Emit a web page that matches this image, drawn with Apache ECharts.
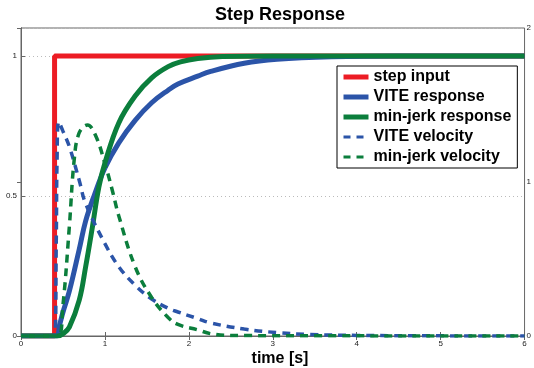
<!DOCTYPE html>
<html>
<head>
<meta charset="utf-8">
<script src="https://cdn.jsdelivr.net/npm/echarts@6/dist/echarts.min.js"></script>
<style>
    html, body { margin: 0; padding: 0; background: #fff; }
    #chart { width: 534px; height: 368px; }
</style>
</head>
<body>
<div id="chart"></div>
<script>
var xTicks = ['0', '1', '2', '3', '4', '5', '6'];

// step input
var stepT = [0, 0.4, 0.4, 6];
var stepV = [0, 0, 1, 1];

// VITE response
var viteT = [0, 0.42, 0.46, 0.5, 0.576, 0.694, 0.77, 0.87, 1.0, 1.165, 1.36, 1.557, 1.753, 1.87, 2.106, 2.26, 2.66, 3.05, 3.7, 4.5, 6];
var viteV = [0, 0, 0.04, 0.085, 0.16, 0.31, 0.41, 0.5, 0.6, 0.69, 0.77, 0.833, 0.878, 0.9, 0.928, 0.945, 0.974, 0.988, 0.997, 1, 1];

// min-jerk response
var mjT = [0, 0.44, 0.5, 0.576, 0.694, 0.77, 0.851, 0.929, 1.0, 1.165, 1.36, 1.557, 1.753, 1.9, 2.106, 2.4, 3, 6];
var mjV = [0, 0, 0.008, 0.032, 0.128, 0.247, 0.39, 0.534, 0.618, 0.761, 0.857, 0.922, 0.962, 0.979, 0.991, 0.998, 1, 1];

// velocities (right axis)
var viteVelT = [0, 0.4, 0.42, 0.43, 0.45, 0.5, 0.576, 0.694, 0.77, 1.0, 1.165, 1.36, 1.557, 1.753, 1.87, 2.106, 2.26, 2.66, 3.05, 3.44, 4, 5, 6];
var viteVelV = [0, 0, 0.6, 1.15, 1.39, 1.33, 1.23, 1.01, 0.86, 0.6, 0.45, 0.33, 0.24, 0.18, 0.156, 0.113, 0.085, 0.045, 0.022, 0.01, 0.004, 0.001, 0];

var mjVelT = [0, 0.44, 0.498, 0.576, 0.635, 0.694, 0.792, 0.89, 1.0, 1.086, 1.165, 1.36, 1.557, 1.753, 1.87, 2.106, 2.26, 2.5, 6];
var mjVelV = [0, 0, 0.19, 0.71, 1.15, 1.32, 1.37, 1.3, 1.12, 0.95, 0.78, 0.45, 0.25, 0.12, 0.075, 0.04, 0.015, 0.003, 0];

var RED = '#ec1c24', BLUE = '#2b54a8', GREEN = '#0b7e3c';
var FONT = '"Liberation Sans", Arial, sans-serif';

function pairs(t, v) {
    var out = [];
    for (var i = 0; i < t.length; i++) out.push([t[i], v[i]]);
    return out;
}

// legend: line only, hide the circle marker
var noMark = { color: 'transparent', borderWidth: 0, opacity: 0 };

var myChart = echarts.init(document.getElementById('chart'));

option = {
    backgroundColor: '#fff',
    animation: false,
    textStyle: { fontFamily: FONT },
    grid: {
        left: 21,
        right: 5,
        top: 28,
        bottom: 32,
        show: true,
        borderColor: '#666',
        borderWidth: 1
    },
    title: [{
        text: 'Step Response',
        left: 275,
        top: 1,
        textAlign: 'center',
        textStyle: { fontFamily: FONT, fontSize: 18, fontWeight: 'bold', color: '#000' }
    }, {
        text: 'time [s]',
        left: 275,
        top: 346,
        textAlign: 'center',
        textStyle: { fontFamily: FONT, fontSize: 16, fontWeight: 'bold', color: '#000' }
    }],
    legend: {
        orient: 'vertical',
        left: 337,
        top: 66,
        padding: [3, 6, 3, 4],
        itemWidth: 25,
        itemHeight: 16,
        itemGap: 4,
        backgroundColor: '#fff',
        borderColor: '#000',
        borderWidth: 1,
        borderRadius: 0,
        textStyle: { fontFamily: FONT, fontSize: 16, fontWeight: 'bold', color: '#000', lineHeight: 16 },
        data: [
            { name: 'step input', lineStyle: { width: 5 }, itemStyle: noMark },
            { name: 'VITE response', lineStyle: { width: 5 }, itemStyle: noMark },
            { name: 'min-jerk response', lineStyle: { width: 5 }, itemStyle: noMark },
            { name: 'VITE velocity', lineStyle: { width: 3, type: [7, 6] }, itemStyle: noMark },
            { name: 'min-jerk velocity', lineStyle: { width: 3, type: [7, 6] }, itemStyle: noMark }
        ]
    },
    xAxis: [{
        type: 'value',
        min: 0,
        max: 6,
        interval: 1,
        axisLine: { show: true, lineStyle: { color: '#666' } },
        axisTick: { show: true, inside: true, length: 4, lineStyle: { color: '#666' } },
        splitLine: { show: false },
        axisLabel: {
            margin: 4,
            fontSize: 8,
            color: '#222',
            formatter: function (v) { return xTicks[Math.round(v)]; }
        }
    }, {
        type: 'value',
        position: 'top',
        min: 0,
        max: 6,
        interval: 1,
        axisLine: { show: true, lineStyle: { color: '#666' } },
        axisTick: { show: true, inside: true, length: 4, lineStyle: { color: '#666' } },
        splitLine: { show: false },
        axisLabel: { show: false }
    }],
    yAxis: [{
        type: 'value',
        min: 0,
        max: 1.1,
        interval: 0.5,
        axisLine: { show: true, lineStyle: { color: '#666' } },
        axisTick: { show: true, inside: true, length: 4, lineStyle: { color: '#666' } },
        splitLine: { show: true, lineStyle: { color: '#bbb', type: [1, 3] } },
        axisLabel: { margin: 4, fontSize: 8, color: '#222', showMaxLabel: false }
    }, {
        type: 'value',
        position: 'right',
        min: 0,
        max: 2,
        interval: 1,
        axisLine: { show: true, lineStyle: { color: '#666' } },
        axisTick: { show: true, inside: true, length: 4, lineStyle: { color: '#666' } },
        splitLine: { show: false },
        axisLabel: { margin: 2, fontSize: 8, color: '#222' }
    }],
    series: [{
        name: 'step input',
        type: 'line',
        data: pairs(stepT, stepV),
        symbol: 'none',
        lineStyle: { color: RED, width: 5 },
        itemStyle: { color: RED }
    }, {
        name: 'VITE response',
        type: 'line',
        data: pairs(viteT, viteV),
        symbol: 'none',
        smooth: 0.4,
        lineStyle: { color: BLUE, width: 5 },
        itemStyle: { color: BLUE }
    }, {
        name: 'min-jerk response',
        type: 'line',
        data: pairs(mjT, mjV),
        symbol: 'none',
        smooth: 0.4,
        lineStyle: { color: GREEN, width: 5 },
        itemStyle: { color: GREEN }
    }, {
        name: 'VITE velocity',
        type: 'line',
        yAxisIndex: 1,
        data: pairs(viteVelT, viteVelV),
        symbol: 'none',
        smooth: 0.4,
        lineStyle: { color: BLUE, width: 3.5, type: [8, 6] },
        itemStyle: { color: BLUE }
    }, {
        name: 'min-jerk velocity',
        type: 'line',
        yAxisIndex: 1,
        data: pairs(mjVelT, mjVelV),
        symbol: 'none',
        smooth: 0.4,
        lineStyle: { color: GREEN, width: 3.5, type: [8, 6] },
        itemStyle: { color: GREEN }
    }]
};
myChart.setOption(option);
</script>
</body>
</html>
